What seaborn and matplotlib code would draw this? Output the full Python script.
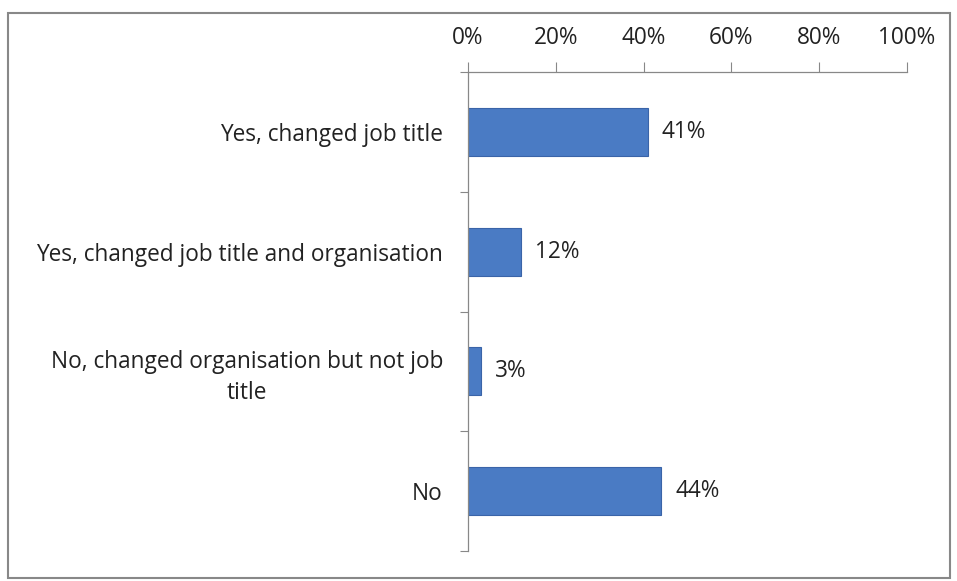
import matplotlib
matplotlib.use("Agg")
import matplotlib.pyplot as plt
import seaborn as sns
import pandas as pd
from matplotlib.patches import Rectangle
from matplotlib.ticker import FixedLocator

categories = [
    "Yes, changed job title",
    "Yes, changed job title and organisation",
    "No, changed organisation but not job\ntitle",
    "No",
]
values = [41, 12, 3, 44]
value_labels = ["41%", "12%", "3%", "44%"]
x_ticks = [0, 20, 40, 60, 80, 100]
x_tick_labels = ["0%", "20%", "40%", "60%", "80%", "100%"]

df = pd.DataFrame({"category": categories, "value": values})

sns.set_theme(style="white")
plt.rcParams["font.family"] = ["Open Sans", "DejaVu Sans"]

FS = 16.3

fig = plt.figure(figsize=(9.57, 5.81), dpi=100)
ax = fig.add_axes([468/957, 1-551/581, (907-468)/957, (551-72)/581])

sns.barplot(data=df, x="value", y="category", orient="h", color="#4a7bc4",
            width=0.4, edgecolor="#3a64a8", linewidth=0.8, ax=ax, saturation=1)

ax.set_xlim(0, 100)
ax.set_ylim(3.5, -0.5)
ax.set_xlabel("")
ax.set_ylabel("")

ax.xaxis.tick_top()
ax.set_xticks(x_ticks)
ax.set_xticklabels(x_tick_labels, fontsize=FS, color="#222222")
ax.tick_params(axis="x", which="major", direction="out", length=7, width=0.8,
               color="#888888", pad=9, top=True, bottom=False)

ax.set_yticks(range(len(categories)))
ax.set_yticklabels(categories, fontsize=FS, color="#222222", ha="right",
                   multialignment="center", linespacing=1.35)
ax.tick_params(axis="y", which="major", length=0, pad=18)
ax.yaxis.set_minor_locator(FixedLocator([-0.5, 0.5, 1.5, 2.5, 3.5]))
ax.tick_params(axis="y", which="minor", direction="out", length=6, width=0.8,
               color="#888888", left=True)

for s in ["right", "bottom"]:
    ax.spines[s].set_visible(False)
for s in ["top", "left"]:
    ax.spines[s].set_color("#888888")
    ax.spines[s].set_linewidth(0.9)

for i, (v, lab) in enumerate(zip(values, value_labels)):
    ax.annotate(lab, xy=(v, i), xytext=(10, 0), textcoords="offset points",
                va="center", ha="left", fontsize=FS, color="#222222")

fig.patches.append(Rectangle((8/957, 3/581), (950-8)/957, (573-8)/581,
                             transform=fig.transFigure, fill=False,
                             edgecolor="#888888", linewidth=1.5))

fig.savefig("out.png", dpi=100, facecolor="white")
